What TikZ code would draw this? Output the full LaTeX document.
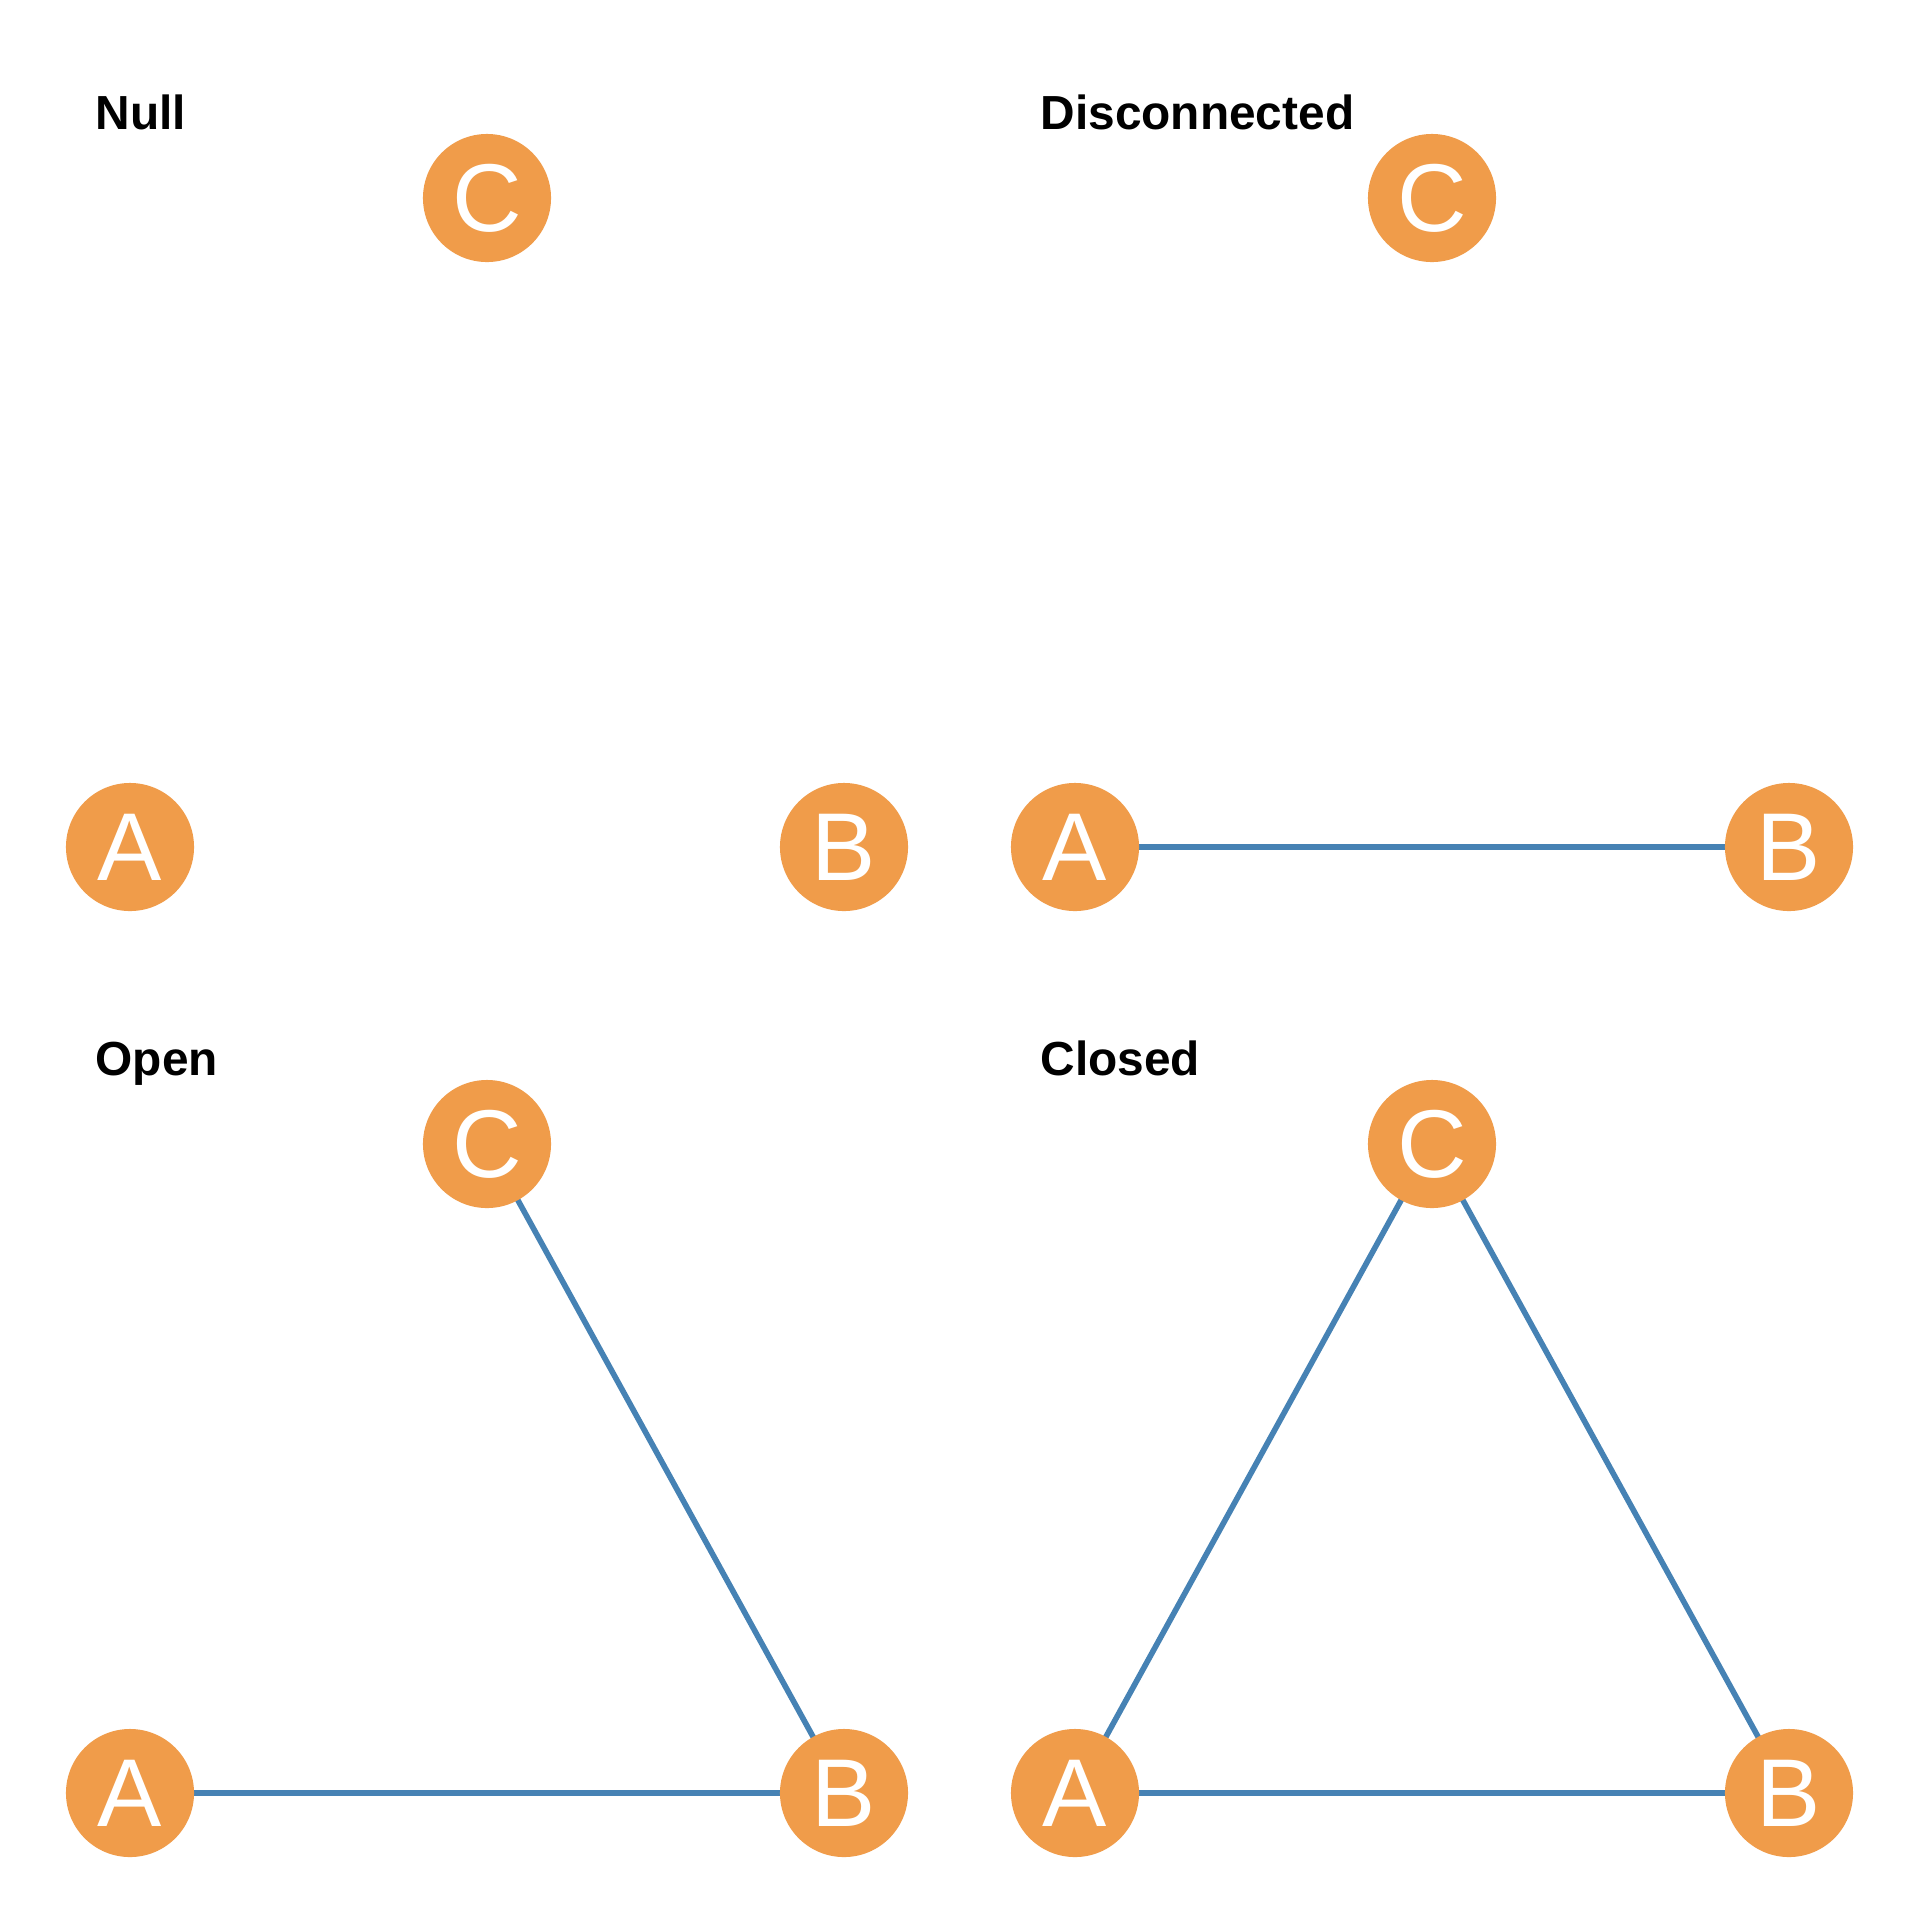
\documentclass[tikz,border=0pt]{standalone}
\usepackage{fontspec}
\setmainfont{Liberation Sans}
\definecolor{nodeorange}{RGB}{240,156,74}
\definecolor{edgeblue}{RGB}{70,130,180}
\begin{document}
\begin{tikzpicture}[x=0.01cm,y=-0.01cm,
  vtx/.style={circle,fill=nodeorange,minimum size=1.28cm,inner sep=0pt,text=white,font=\fontsize{27.4}{27.4}\selectfont},
  ttl/.style={anchor=base west,inner sep=0pt,font=\fontsize{13.6}{13.6}\selectfont\bfseries},
  edge/.style={draw=edgeblue,line width=1.6pt}]
\fill[white] (0,0) rectangle (1920,1920);
\useasboundingbox (0,0) rectangle (1920,1920);
% Null
\node[ttl] (t1) at (95,129) {Null};
\node[vtx] (c1) at (487,198) {C};
\node[vtx] (a1) at (130,847) {A};
\node[vtx] (b1) at (844,847) {B};
% Disconnected
\node[ttl] (t2) at (1040,129) {Disconnected};
\coordinate (pa2) at (1075,847);
\coordinate (pb2) at (1789,847);
\draw[edge] (pa2) -- (pb2);
\node[vtx] (c2) at (1432,198) {C};
\node[vtx] (a2) at (pa2) {A};
\node[vtx] (b2) at (pb2) {B};
% Open
\node[ttl] (t3) at (95,1075) {Open};
\coordinate (pa3) at (130,1793);
\coordinate (pb3) at (844,1793);
\coordinate (pc3) at (487,1144);
\draw[edge] (pa3) -- (pb3);
\draw[edge] (pc3) -- (pb3);
\node[vtx] (c3) at (pc3) {C};
\node[vtx] (a3) at (pa3) {A};
\node[vtx] (b3) at (pb3) {B};
% Closed
\node[ttl] (t4) at (1040,1075) {Closed};
\coordinate (pa4) at (1075,1793);
\coordinate (pb4) at (1789,1793);
\coordinate (pc4) at (1432,1144);
\draw[edge] (pa4) -- (pb4);
\draw[edge] (pc4) -- (pb4);
\draw[edge] (pa4) -- (pc4);
\node[vtx] (c4) at (pc4) {C};
\node[vtx] (a4) at (pa4) {A};
\node[vtx] (b4) at (pb4) {B};
\end{tikzpicture}
\end{document}
